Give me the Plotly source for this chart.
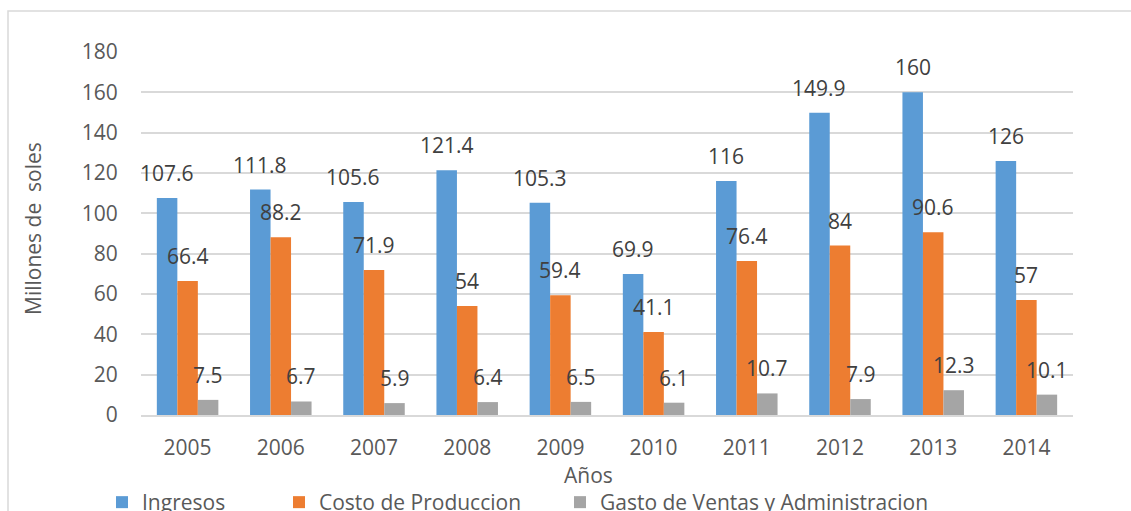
import plotly.graph_objects as go

years = ["2005", "2006", "2007", "2008", "2009", "2010", "2011", "2012", "2013", "2014"]
ingresos = [107.6, 111.8, 105.6, 121.4, 105.3, 69.9, 116, 149.9, 160, 126]
costo = [66.4, 88.2, 71.9, 54, 59.4, 41.1, 76.4, 84, 90.6, 57]
gasto = [7.5, 6.7, 5.9, 6.4, 6.5, 6.1, 10.7, 7.9, 12.3, 10.1]
labels = ["Ingresos", "Costo de Produccion", "Gasto de Ventas y Administracion"]
colors = ["#5B9BD5", "#ED7D31", "#A5A5A5"]
y_ticks = [0, 20, 40, 60, 80, 100, 120, 140, 160, 180]

W, H = 1131, 511
L, R, T, B = 141, 58, 52, 96
pw, ph = W - L - R, H - T - B

def px_x(x):
    return (x - L) / pw

def px_y(y):
    return (H - B - y) / ph

FONT = "Open Sans"
series = [ingresos, costo, gasto]
legends = ["legend", "legend2", "legend3"]

fig = go.Figure()
for name, vals, col, lg in zip(labels, series, colors, legends):
    fig.add_trace(go.Bar(x=years, y=vals, name=name, marker=dict(color=col, line=dict(width=0)),
                         legend=lg))

bar_px = pw / len(years) * (1 - 0.34) / 3
annotations = []
for i, vals in enumerate(series):
    for j, v in enumerate(vals):
        annotations.append(dict(x=j, y=v, xref="x", yref="y", text=f"{v:g}", showarrow=False,
                                xshift=(i - 1) * bar_px, yshift=25, yanchor="middle",
                                font=dict(family=FONT, size=21, color="#404040")))

annotations.append(dict(x=px_x(33), y=px_y(229), xref="paper", yref="paper",
                        text="Millones de\u00a0 soles",
                        textangle=-90, showarrow=False, xanchor="center", yanchor="middle",
                        font=dict(family=FONT, size=21, color="#595959")))
annotations.append(dict(x=px_x(588), y=px_y(475), xref="paper", yref="paper", text="Años",
                        showarrow=False, xanchor="center", yanchor="middle",
                        font=dict(family=FONT, size=21, color="#595959")))

leg_common = dict(orientation="h", yanchor="top", y=px_y(482), xanchor="left", bgcolor="rgba(0,0,0,0)",
                  font=dict(family=FONT, size=21, color="#595959"), itemwidth=30)

fig.update_layout(
    width=W, height=H,
    margin=dict(l=L, r=R, t=T, b=B, autoexpand=False),
    paper_bgcolor="white", plot_bgcolor="white",
    barmode="group", bargap=0.34, bargroupgap=0,
    font=dict(family=FONT, size=21, color="#595959"),
    showlegend=True,
    xaxis=dict(type="category", range=[-0.5, len(years) - 0.5], showgrid=False, showline=True,
               linecolor="#d9d9d9", linewidth=1.5,
               ticks="outside", ticklen=13, tickcolor="rgba(0,0,0,0)",
               tickfont=dict(family=FONT, size=21, color="#595959")),
    yaxis=dict(range=[0, 180], tickvals=y_ticks, showgrid=True, gridcolor="#d9d9d9", gridwidth=1.5,
               zeroline=False, showline=False, ticks="outside", ticklen=18,
               tickcolor="rgba(0,0,0,0)", tickfont=dict(family=FONT, size=21, color="#595959")),
    legend=dict(x=px_x(102), **leg_common),
    legend2=dict(x=px_x(279), **leg_common),
    legend3=dict(x=px_x(560), **leg_common),
    annotations=annotations,
    shapes=[dict(type="rect", xref="paper", yref="paper", x0=px_x(8), x1=px_x(1145),
                 y0=px_y(530), y1=px_y(11), line=dict(color="#d9d9d9", width=1.5),
                 fillcolor="rgba(0,0,0,0)", layer="below")],
)

fig.write_html("out.html")
